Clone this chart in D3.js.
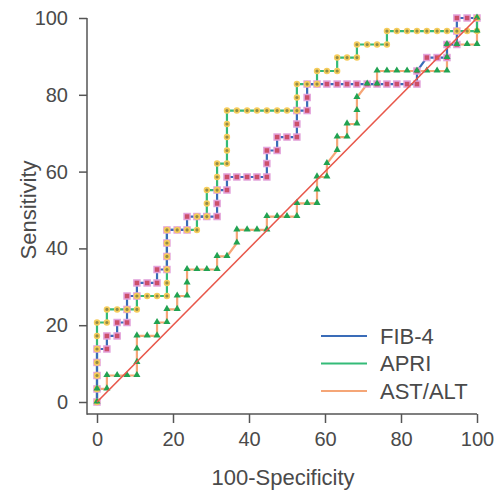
<!DOCTYPE html>
<html>
<head>
<meta charset="utf-8">
<script src="https://cdn.jsdelivr.net/npm/d3@7"></script>
<style>
  body { margin: 0; background: #fff; }
  svg text { font-family: "Liberation Sans", Arial, sans-serif; fill: #4a4a4a; }
</style>
</head>
<body>
<svg id="roc" width="500" height="490"></svg>
<script>
// ROC points [100-specificity, sensitivity], one per threshold
let fib4 = [[0,0],[0,3.4],[0,6.9],[0,10.3],[0,13.8],[2.6,13.8],[2.6,17.2],[5.3,17.2],[5.3,20.7],[7.9,20.7],
    [7.9,24.1],[7.9,27.6],[10.5,27.6],[10.5,31.0],[13.2,31.0],[15.8,31.0],[15.8,34.5],[18.4,34.5],[18.4,37.9],[18.4,41.4],
    [18.4,44.8],[21.1,44.8],[23.7,44.8],[23.7,48.3],[26.3,48.3],[28.9,48.3],[31.6,48.3],[31.6,51.7],[31.6,55.2],[34.2,55.2],
    [34.2,58.6],[36.8,58.6],[39.5,58.6],[42.1,58.6],[44.7,58.6],[44.7,62.1],[44.7,65.5],[47.4,65.5],[47.4,69.0],[50.0,69.0],
    [52.6,69.0],[52.6,72.4],[52.6,75.9],[55.3,75.9],[55.3,79.3],[55.3,82.8],[57.9,82.8],[60.5,82.8],[63.2,82.8],[65.8,82.8],
    [68.4,82.8],[71.1,82.8],[73.7,82.8],[76.3,82.8],[78.9,82.8],[81.6,82.8],[84.2,82.8],[84.2,86.2],[86.8,89.7],[89.5,89.7],
    [92.1,89.7],[92.1,93.1],[94.7,93.1],[94.7,96.6],[94.7,100],[97.4,100],[100,100]];

let apri = [[0,0],[0,3.4],[0,6.9],[0,10.3],[0,13.8],[0,17.2],[0,20.7],[2.6,20.7],[2.6,24.1],[5.3,24.1],
    [7.9,24.1],[10.5,24.1],[10.5,27.6],[13.2,27.6],[15.8,27.6],[18.4,27.6],[18.4,31.0],[18.4,34.5],[18.4,37.9],[18.4,41.4],
    [18.4,44.8],[21.1,44.8],[23.7,44.8],[26.3,44.8],[26.3,48.3],[28.9,48.3],[28.9,51.7],[28.9,55.2],[31.6,55.2],[31.6,58.6],
    [31.6,62.1],[34.2,62.1],[34.2,65.5],[34.2,69.0],[34.2,72.4],[34.2,75.9],[36.8,75.9],[39.5,75.9],[42.1,75.9],[44.7,75.9],
    [47.4,75.9],[50.0,75.9],[52.6,75.9],[52.6,79.3],[52.6,82.8],[55.3,82.8],[57.9,82.8],[57.9,86.2],[60.5,86.2],[63.2,86.2],
    [63.2,89.7],[65.8,89.7],[68.4,89.7],[68.4,93.1],[71.1,93.1],[73.7,93.1],[76.3,93.1],[76.3,96.6],[78.9,96.6],[81.6,96.6],
    [84.2,96.6],[86.8,96.6],[89.5,96.6],[92.1,96.6],[94.7,96.6],[97.4,96.6],[100,96.6],[100,100]];

let astAlt = [[0,0],[0,3.4],[2.6,3.4],[2.6,6.9],[5.3,6.9],[7.9,6.9],[10.5,6.9],[10.5,10.3],[10.5,13.8],[10.5,17.2],
    [13.2,17.2],[15.8,17.2],[15.8,20.7],[18.4,20.7],[18.4,24.1],[21.1,24.1],[21.1,27.6],[23.7,27.6],[23.7,31.0],[23.7,34.5],
    [26.3,34.5],[28.9,34.5],[31.6,34.5],[31.6,37.9],[34.2,37.9],[36.8,41.4],[36.8,44.8],[39.5,44.8],[42.1,44.8],[44.7,44.8],
    [44.7,48.3],[47.4,48.3],[50.0,48.3],[52.6,48.3],[52.6,51.7],[55.3,51.7],[57.9,51.7],[57.9,55.2],[57.9,58.6],[60.5,58.6],
    [60.5,62.1],[63.2,65.5],[63.2,69.0],[65.8,69.0],[65.8,72.4],[68.4,72.4],[68.4,75.9],[68.4,79.3],[71.1,82.8],[73.7,82.8],
    [73.7,86.2],[76.3,86.2],[78.9,86.2],[81.6,86.2],[84.2,86.2],[86.8,86.2],[89.5,86.2],[92.1,86.2],[92.1,89.7],[92.1,93.1],
    [94.7,93.1],[97.4,93.1],[100,93.1],[100,96.6],[100,100]];

let reference = [[0,0],[100,100]];
let tickValues = [0, 20, 40, 60, 80, 100];
let legendNames = ["FIB-4", "APRI", "AST/ALT"];
let lineColors = ["#3a6cb8", "#34bb78", "#f5a677"];

let svg = d3.select("svg#roc");
let x = d3.scaleLinear().domain([0, 100]).range([97, 477]);
let y = d3.scaleLinear().domain([0, 100]).range([402, 18]);

// axes, lines start a bit outside the data range like the original
let gx = svg.append("g")
    .attr("transform", "translate(0,414)")
    .call(d3.axisBottom(x).tickValues(tickValues).tickSize(9).tickSizeOuter(0).tickPadding(9));
gx.select(".domain").remove();
gx.append("line").attr("x1", 87).attr("x2", 477).attr("stroke", "#555").attr("stroke-width", 1.5);

let gy = svg.append("g")
    .attr("transform", "translate(87,0)")
    .call(d3.axisLeft(y).tickValues(tickValues).tickSize(8).tickSizeOuter(0).tickPadding(11));
gy.select(".domain").remove();
gy.append("line").attr("y1", 18).attr("y2", 414.7).attr("stroke", "#555").attr("stroke-width", 1.5);

svg.selectAll(".tick line").attr("stroke", "#555").attr("stroke-width", 1.5);
svg.selectAll(".tick text").style("font-size", "20px").attr("fill", "#4a4a4a");

svg.append("text")
    .attr("x", 283).attr("y", 485)
    .attr("text-anchor", "middle")
    .style("font-size", "22px")
    .text("100-Specificity");

svg.append("text")
    .attr("transform", "translate(36,210) rotate(-90)")
    .attr("text-anchor", "middle")
    .style("font-size", "22px")
    .text("Sensitivity");

let line = d3.line()
    .x(function(d) { return x(d[0]); })
    .y(function(d) { return y(d[1]); });

let plot = svg.append("g");

plot.append("path").datum(astAlt).attr("d", line)
    .attr("fill", "none").attr("stroke", lineColors[2]).attr("stroke-width", 2.2);
plot.append("path").datum(apri).attr("d", line)
    .attr("fill", "none").attr("stroke", lineColors[1]).attr("stroke-width", 2.2);
plot.append("path").datum(fib4).attr("d", line)
    .attr("fill", "none").attr("stroke", lineColors[0]).attr("stroke-width", 2.2);

// markers
plot.selectAll("rect.fib4").data(fib4).enter().append("rect")
    .attr("class", "fib4")
    .attr("x", function(d) { return x(d[0]) - 3; })
    .attr("y", function(d) { return y(d[1]) - 3; })
    .attr("width", 6).attr("height", 6)
    .attr("fill", "#cc4f6a").attr("stroke", "#e3a2db").attr("stroke-width", 1.5);

plot.selectAll("circle.apri").data(apri).enter().append("circle")
    .attr("class", "apri")
    .attr("cx", function(d) { return x(d[0]); })
    .attr("cy", function(d) { return y(d[1]); })
    .attr("r", 2.4)
    .attr("fill", "#8f8a45").attr("stroke", "#f6cd5c").attr("stroke-width", 1.6);

plot.selectAll("path.ast").data(astAlt).enter().append("path")
    .attr("class", "ast")
    .attr("d", d3.symbol(d3.symbolTriangle, 22))
    .attr("transform", function(d) { return "translate(" + x(d[0]) + "," + (y(d[1]) - 0.5) + ")"; })
    .attr("fill", "#21a352");

plot.append("path").datum(reference).attr("d", line)
    .attr("fill", "none").attr("stroke", "#e8574a").attr("stroke-width", 1.6);

// legend
let legend = svg.append("g");
legendNames.forEach(function(name, i) {
    let ly = 336 + i * 27.5;
    legend.append("line")
        .attr("x1", 321).attr("x2", 367).attr("y1", ly).attr("y2", ly)
        .attr("stroke", lineColors[i]).attr("stroke-width", 2.2);
    legend.append("text")
        .attr("x", 380).attr("y", ly + 7.5)
        .style("font-size", "22px")
        .text(name);
});
</script>
</body>
</html>
